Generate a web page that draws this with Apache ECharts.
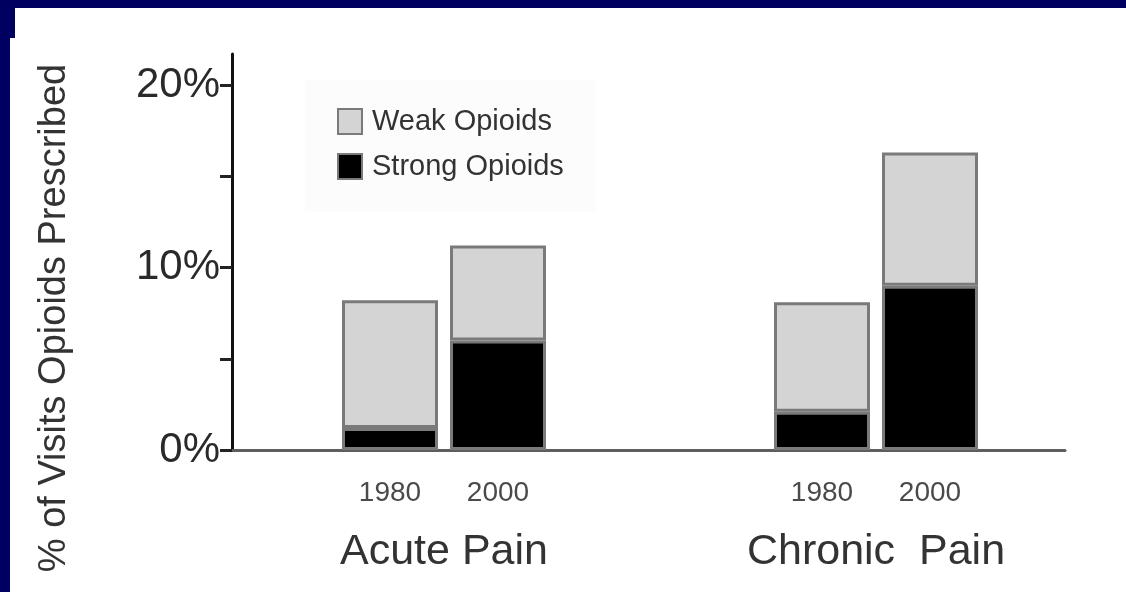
<!DOCTYPE html>
<html>
<head>
<meta charset="utf-8">
<script src="https://cdn.jsdelivr.net/npm/echarts@6/dist/echarts.min.js"></script>
<style>
  html, body { margin: 0; padding: 0; width: 1126px; height: 592px; background: #000060; overflow: hidden; }
  #chart { position: absolute; left: 10px; top: 8px; width: 1116px; height: 584px; background: #ffffff; }
  #notch { position: absolute; left: 10px; top: 8px; width: 5px; height: 30px; background: #000060; z-index: 5; }
</style>
</head>
<body>
<div id="chart"></div>
<div id="notch"></div>
<script>
// ---- data ----
var groups = ['Acute Pain', 'Chronic  Pain'];
var years = ['1980', '2000', '1980', '2000'];
var strongOpioids = [1.2, 6.0, 2.1, 9.0];   // % of visits
var weakOpioids = [7.0, 5.2, 6.0, 7.3];     // % of visits (stacked on strong)
var yTicks = [0, 5, 10, 15, 20];
var yLabels = [0, 10, 20];
var seriesNames = ['Weak Opioids', 'Strong Opioids'];
var yTitle = '% of Visits Opioids Prescribed';

// ---- build axis slots: two bars per group, empty slots between groups ----
var slotCats = [], slotStrong = [], slotWeak = [];
for (var g = 0; g < groups.length; g++) {
  if (g > 0) { slotCats.push('', ''); slotStrong.push(null, null); slotWeak.push(null, null); }
  for (var k = 0; k < 2; k++) {
    var i = g * 2 + k;
    slotCats.push(years[i]);
    slotStrong.push(strongOpioids[i]);
    slotWeak.push(weakOpioids[i]);
  }
}
var groupCats = [groups[0], '', groups[1]];

var FONT = "'Liberation Sans', Arial, sans-serif";
var TXT = '#333333';
var YMAX = 21.7;

var chart = echarts.init(document.getElementById('chart'), null, { renderer: 'canvas' });
chart.setOption({
  animation: false,
  backgroundColor: '#ffffff',
  textStyle: { fontFamily: FONT },
  grid: [
    { left: 326, width: 648, top: 46, bottom: 142 },
    { left: 222, right: 61, top: 46, bottom: 142 }
  ],
  legend: {
    orient: 'vertical',
    left: 295, top: 72,
    padding: [27, 32, 31, 32],
    backgroundColor: '#fcfcfc',
    icon: 'rect',
    itemWidth: 24, itemHeight: 25, itemGap: 16,
    data: seriesNames,
    textStyle: { fontFamily: FONT, fontSize: 29, color: TXT, padding: [0, 0, 0, 5] }
  },
  xAxis: [
    {
      gridIndex: 0, type: 'category', data: slotCats, position: 'bottom',
      axisLine: { show: false }, axisTick: { show: false },
      axisLabel: { fontSize: 28, color: '#4a4a4a', margin: 29, interval: 0, fontFamily: FONT }
    },
    {
      gridIndex: 0, type: 'category', data: groupCats, position: 'bottom', offset: 0,
      axisLine: { show: false }, axisTick: { show: false },
      axisLabel: { fontSize: 43, color: TXT, margin: 81, interval: 0, fontFamily: FONT }
    },
    {
      gridIndex: 1, type: 'value', min: 0, max: 1, position: 'bottom',
      axisLine: { show: true, lineStyle: { color: '#5e5e5e', width: 3 } },
      axisTick: { show: false }, axisLabel: { show: false }, splitLine: { show: false }
    }
  ],
  yAxis: [
    { gridIndex: 0, type: 'value', min: 0, max: YMAX, show: false, splitLine: { show: false } },
    {
      gridIndex: 1, type: 'value', min: 0, max: YMAX, interval: 5, position: 'left',
      axisLine: { show: true, lineStyle: { color: '#111', width: 3 } },
      axisTick: { show: true, length: 12, lineStyle: { color: '#222', width: 3 }, customValues: yTicks },
      axisLabel: {
        customValues: yLabels, formatter: '{value}%', fontSize: 42, color: '#2a2a2a',
        margin: 12, fontFamily: FONT
      },
      splitLine: { show: false }
    }
  ],
  series: [
    {
      name: seriesNames[1], type: 'bar', stack: 'opioids', xAxisIndex: 0, yAxisIndex: 0,
      data: slotStrong, barWidth: 96,
      itemStyle: { color: '#000000', borderColor: '#7a7a7a', borderWidth: 3 }
    },
    {
      name: seriesNames[0], type: 'bar', stack: 'opioids', xAxisIndex: 0, yAxisIndex: 0,
      data: slotWeak, barWidth: 96,
      itemStyle: { color: '#d4d4d4', borderColor: '#7a7a7a', borderWidth: 3 }
    }
  ],
  graphic: [
    {
      type: 'text', x: 45, y: 310, rotation: Math.PI / 2,
      style: {
        text: yTitle, fontSize: 38, fontFamily: FONT, fill: TXT,
        align: 'center', verticalAlign: 'middle'
      }
    }
  ]
});
</script>
</body>
</html>
